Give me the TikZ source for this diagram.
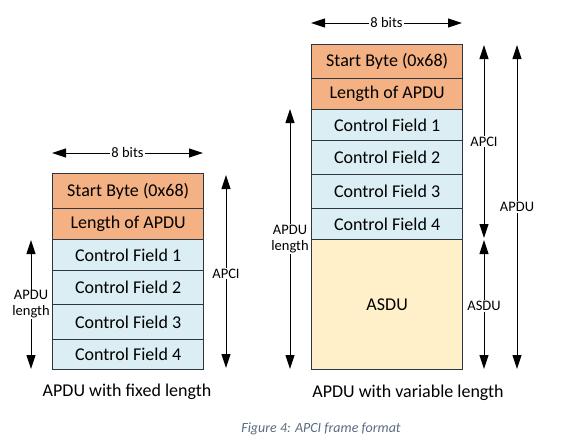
\documentclass[tikz,border=0pt]{standalone}
\usepackage{fontspec}
\setmainfont{Carlito}
\usetikzlibrary{arrows.meta}
\definecolor{orng}{HTML}{F4B183}
\definecolor{lblue}{HTML}{DAEEF3}
\definecolor{lyel}{HTML}{FFF0C9}
\definecolor{edgec}{HTML}{2E3640}
\definecolor{capc}{HTML}{5A6B80}
\tikzset{
 field/.style={draw=edgec, line width=1.3pt, minimum width=151pt, inner sep=0pt, anchor=north west, font=\fontsize{18}{20}\selectfont, text=black},
 orangefield/.style={field, fill=orng},
 bluefield/.style={field, fill=lblue},
 yelfield/.style={field, fill=lyel},
 dim/.style={draw=black, line width=1pt, {Triangle[width=9pt,length=14pt]}-{Triangle[width=9pt,length=14pt]}},
 dimlabel/.style={fill=white, inner sep=1pt, font=\fontsize{14.5}{16}\selectfont, align=center, text=black},
 captxt/.style={font=\fontsize{18}{20}\selectfont, text=black},
}
\begin{document}
\begin{tikzpicture}[x=1pt,y=-1pt]
\useasboundingbox (0,0) rectangle (568,447);
% left stack
\node[orangefield, minimum height=35pt] (l1) at (52,173) {Start Byte (0x68)};
\node[orangefield, minimum height=31pt] (l2) at (52,208) {Length of APDU};
\node[bluefield, minimum height=31pt] (l3) at (52,239) {Control Field 1};
\node[bluefield, minimum height=34pt] (l4) at (52,270) {Control Field 2};
\node[bluefield, minimum height=35pt] (l5) at (52,304) {Control Field 3};
\node[bluefield, minimum height=30pt] (l6) at (52,339) {Control Field 4};
% right stack
\node[orangefield, minimum height=34pt] (r1) at (311,44) {Start Byte (0x68)};
\node[orangefield, minimum height=31pt] (r2) at (311,78) {Length of APDU};
\node[bluefield, minimum height=31pt] (r3) at (311,109) {Control Field 1};
\node[bluefield, minimum height=34pt] (r4) at (311,140) {Control Field 2};
\node[bluefield, minimum height=34pt] (r5) at (311,174) {Control Field 3};
\node[bluefield, minimum height=31pt] (r6) at (311,208) {Control Field 4};
\node[yelfield, minimum height=130pt] (r7) at (311,239) {ASDU};
% dimension coordinates
\coordinate (lb1) at (52,153); \coordinate (lb2) at (203,153);
\coordinate (la1) at (226,175); \coordinate (la2) at (226,368);
\coordinate (ll1) at (31,240); \coordinate (ll2) at (31,369);
\coordinate (rb1) at (311,23); \coordinate (rb2) at (462,23);
\coordinate (ra1) at (484,45); \coordinate (ra2) at (484,238);
\coordinate (rs1) at (484,240); \coordinate (rs2) at (484,369);
\coordinate (rp1) at (517,45); \coordinate (rp2) at (517,369);
\coordinate (rl1) at (290,109); \coordinate (rl2) at (290,369);
% dimension arrows
\draw[dim] (lb1) -- node[dimlabel]{8 bits} (lb2);
\draw[dim] (la1) -- node[dimlabel, pos=0.51]{APCI} (la2);
\draw[dim] (ll1) -- node[dimlabel, pos=0.5]{APDU\\length} (ll2);
\draw[dim] (rb1) -- node[dimlabel]{8 bits} (rb2);
\draw[dim] (ra1) -- node[dimlabel, pos=0.5]{APCI} (ra2);
\draw[dim] (rs1) -- node[dimlabel, pos=0.51]{ASDU} (rs2);
\draw[dim] (rp1) -- node[dimlabel, pos=0.5]{APDU} (rp2);
\draw[dim] (rl1) -- node[dimlabel, pos=0.5]{APDU\\length} (rl2);
% captions
\node[captxt] (c1) at (127,392) {APDU with fixed length};
\node[captxt] (c2) at (408,393) {APDU with variable length};
\node[font=\itshape\fontsize{14}{16}\selectfont, text=capc] (c3) at (321,429) {Figure 4: APCI frame format};
\end{tikzpicture}
\end{document}
